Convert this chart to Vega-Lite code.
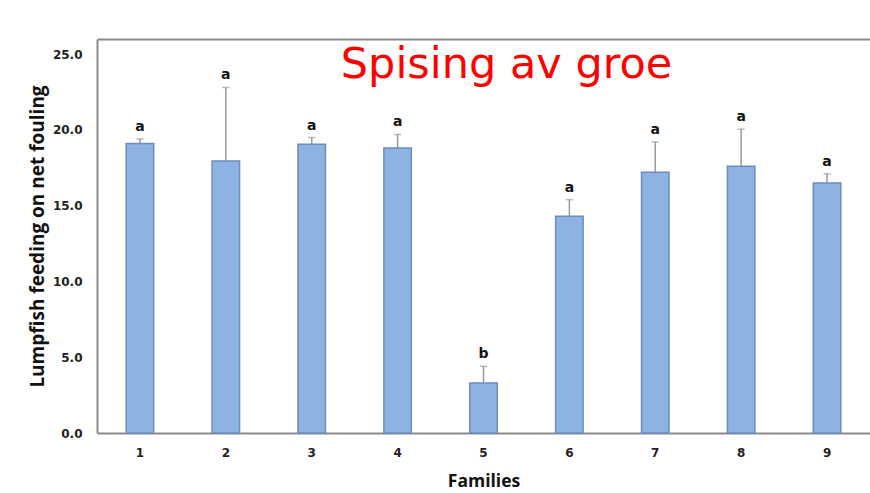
{
  "$schema": "https://vega.github.io/schema/vega-lite/v6.json",
  "autosize": {"type": "none"},
  "padding": {"left": 97, "top": 39, "right": 0, "bottom": 60},
  "width": 773,
  "height": 394,
  "background": "#ffffff",
  "config": {
    "view": {"stroke": null},
    "axisY": {"grid": false, "ticks": false, "labelPadding": 15,
      "labelFont": "DejaVu Sans", "labelFontSize": 12, "labelFontWeight": "bold", "labelColor": "#222222",
      "titleFont": "Open Sans", "titleFontSize": 19, "titleFontWeight": "bold", "titleColor": "#111111", "titlePadding": 5,
      "domainColor": "#8a8a8a", "domainWidth": 2}
  },
  "data": {
    "values": [
      {"family": "1", "mean": 19.1, "upper": 19.4, "letter": "a"},
      {"family": "2", "mean": 17.95, "upper": 22.8, "letter": "a"},
      {"family": "3", "mean": 19.05, "upper": 19.5, "letter": "a"},
      {"family": "4", "mean": 18.8, "upper": 19.7, "letter": "a"},
      {"family": "5", "mean": 3.3, "upper": 4.4, "letter": "b"},
      {"family": "6", "mean": 14.3, "upper": 15.4, "letter": "a"},
      {"family": "7", "mean": 17.2, "upper": 19.2, "letter": "a"},
      {"family": "8", "mean": 17.6, "upper": 20.05, "letter": "a"},
      {"family": "9", "mean": 16.5, "upper": 17.1, "letter": "a"}
    ]
  },
  "layer": [
    {
      "mark": {"type": "rule", "color": "#9a9a9a", "strokeWidth": 1.5},
      "encoding": {
        "x": {"field": "family", "type": "nominal", "sort": null,
          "scale": {"paddingInner": 0.68, "paddingOuter": 0.34},
          "axis": {"orient": "top", "title": null, "labels": false, "ticks": false, "domain": true, "domainColor": "#8a8a8a", "domainWidth": 2}},
        "y": {"field": "mean", "type": "quantitative", "scale": {"domain": [0, 25]},
          "axis": {"title": "Lumpfish feeding on net fouling", "values": [0, 5, 10, 15, 20, 25], "format": ".1f"}},
        "y2": {"field": "upper"}
      }
    },
    {
      "mark": {"type": "tick", "color": "#9a9a9a", "size": 7, "thickness": 1.5},
      "encoding": {
        "x": {"field": "family", "type": "nominal", "sort": null, "axis": null},
        "y": {"field": "upper", "type": "quantitative",
          "axis": {"title": "Lumpfish feeding on net fouling", "values": [0, 5, 10, 15, 20, 25], "format": ".1f"}}
      }
    },
    {
      "mark": {"type": "bar", "color": "#8db3e2", "stroke": "#6d8cbd", "strokeWidth": 1.5},
      "encoding": {
        "x": {"field": "family", "type": "nominal", "sort": null,
          "axis": {"orient": "bottom", "title": "Families", "labelAngle": 0, "ticks": false,
            "labelFont": "DejaVu Sans", "labelFontSize": 12, "labelFontWeight": "bold", "labelColor": "#222222", "labelPadding": 14,
            "titleFont": "Open Sans", "titleFontSize": 17.5, "titleFontWeight": "bold", "titleColor": "#111111", "titlePadding": 14,
            "domainColor": "#8a8a8a", "domainWidth": 2}},
        "y": {"field": "mean", "type": "quantitative",
          "axis": {"title": "Lumpfish feeding on net fouling", "values": [0, 5, 10, 15, 20, 25], "format": ".1f"}}
      }
    },
    {
      "mark": {"type": "text", "font": "DejaVu Sans", "fontSize": 14, "fontWeight": "bold", "color": "#111111", "baseline": "bottom", "dy": -5},
      "encoding": {
        "x": {"field": "family", "type": "nominal", "sort": null, "axis": null},
        "y": {"field": "upper", "type": "quantitative",
          "axis": {"title": "Lumpfish feeding on net fouling", "values": [0, 5, 10, 15, 20, 25], "format": ".1f"}},
        "text": {"field": "letter"}
      }
    },
    {
      "data": {"values": [{"label": "Spising av groe", "family": "5", "yv": 24.3}]},
      "mark": {"type": "text", "font": "DejaVu Sans", "fontSize": 43, "color": "#ff0000", "baseline": "middle", "align": "center", "dx": 23},
      "encoding": {
        "x": {"field": "family", "type": "nominal", "axis": null},
        "y": {"field": "yv", "type": "quantitative",
          "axis": {"title": "Lumpfish feeding on net fouling", "values": [0, 5, 10, 15, 20, 25], "format": ".1f"}},
        "text": {"field": "label"}
      }
    }
  ]
}
